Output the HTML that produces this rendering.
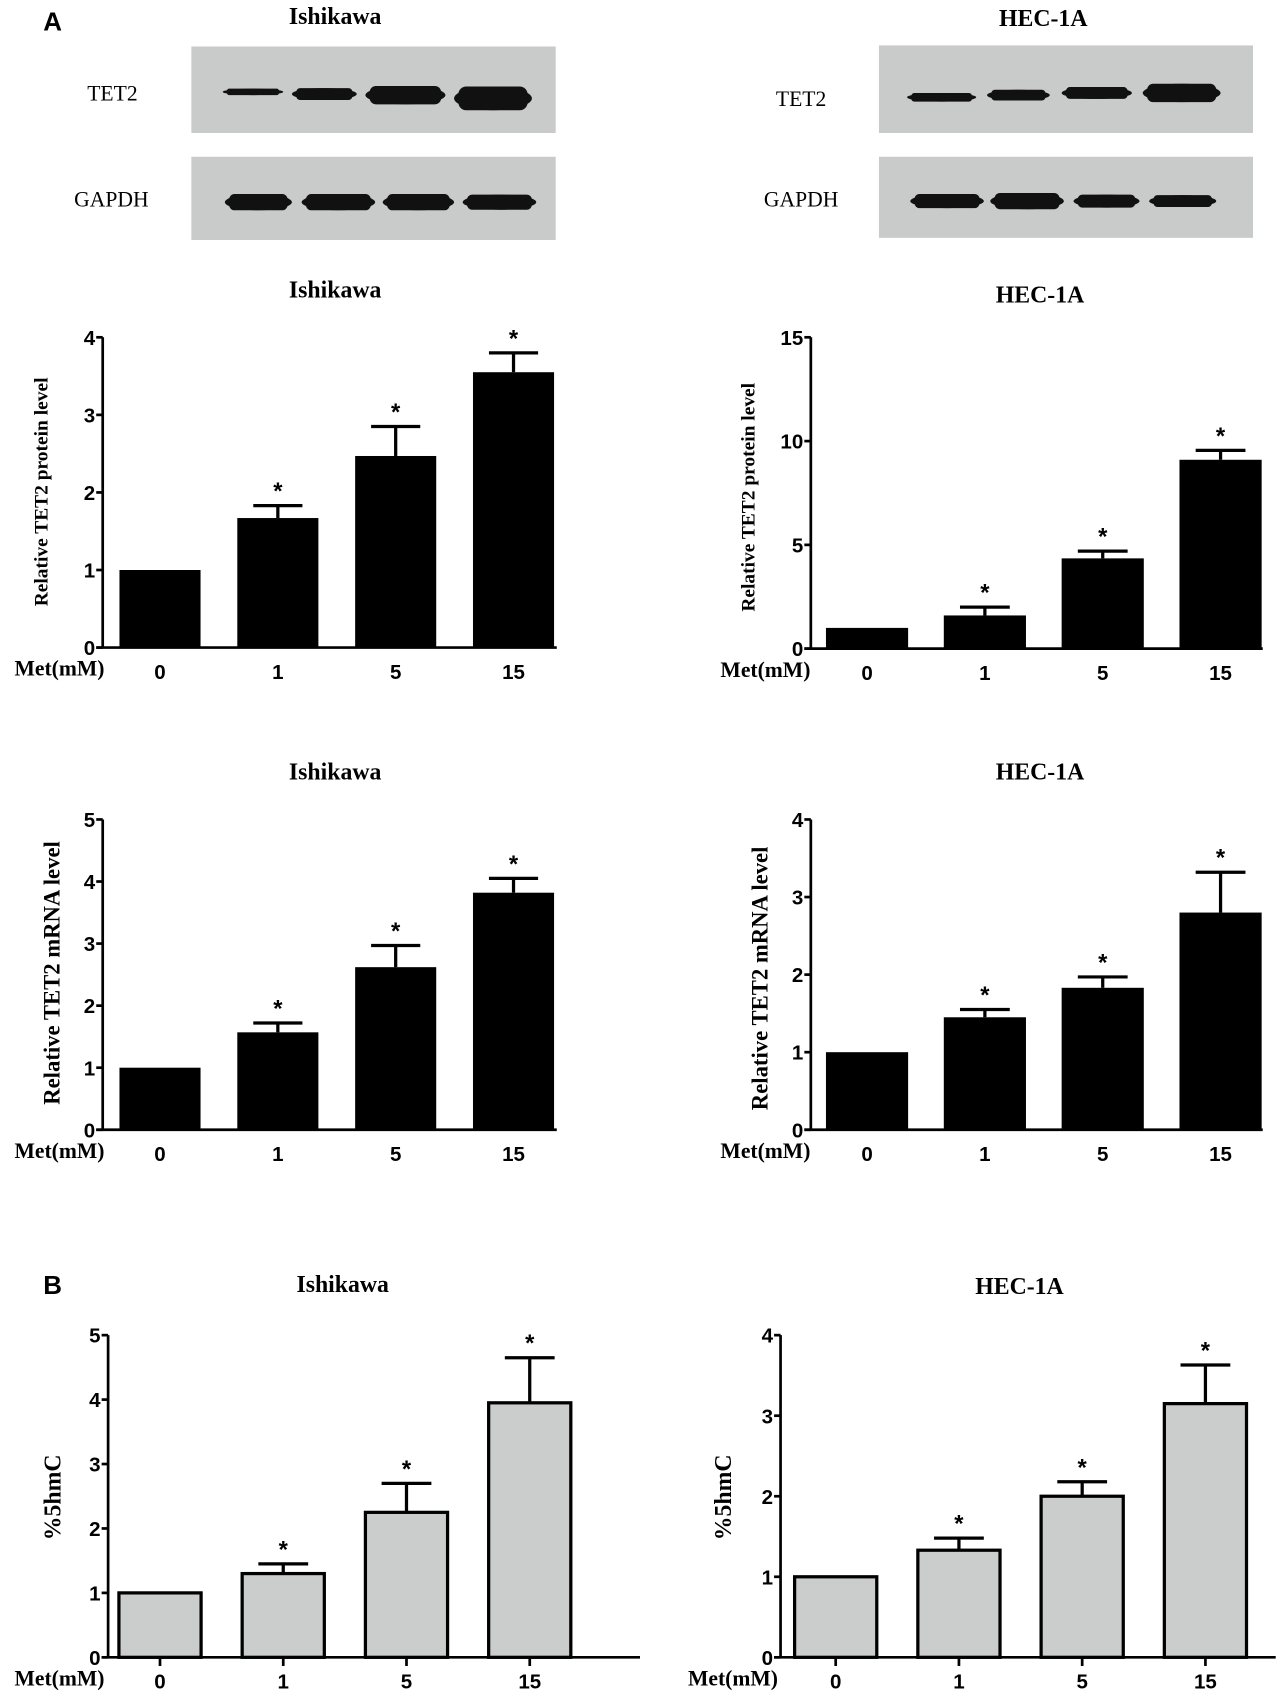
<!DOCTYPE html>
<html><head><meta charset="utf-8"><style>
html,body{margin:0;padding:0;background:#fff;}
svg{display:block;}
.serif{font-family:"Liberation Serif",serif;font-weight:bold;}
.sans{font-family:"Liberation Sans",sans-serif;font-weight:bold;}
</style></head><body>
<svg id="fig" width="1280" height="1695" viewBox="0 0 1280 1695" xmlns="http://www.w3.org/2000/svg">
<g transform="scale(1.0811)">
<text x="40" y="28" class="sans" font-size="24">A</text>
<text x="40" y="1197" class="sans" font-size="24">B</text>
<text x="310" y="22" class="serif" font-size="22" text-anchor="middle">Ishikawa</text>
<text x="965" y="24" class="serif" font-size="22" text-anchor="middle">HEC-1A</text>
<g id="blots"></g>
<g id="charts"></g>
</g>
</svg>
<script>
// ---- chart data ----
const categories = ["0","1","5","15"];
const protIshVals = [1, 1.67, 2.47, 3.55];
const protIshErr  = [0, 0.16, 0.38, 0.25];
const protHecVals = [1, 1.6, 4.35, 9.1];
const protHecErr  = [0, 0.4, 0.35, 0.45];
const mrnaIshVals = [1, 1.57, 2.62, 3.82];
const mrnaIshErr  = [0, 0.15, 0.35, 0.23];
const mrnaHecVals = [1, 1.45, 1.83, 2.8];
const mrnaHecErr  = [0, 0.1, 0.14, 0.52];
const hmcIshVals  = [1, 1.3, 2.25, 3.95];
const hmcIshErr   = [0, 0.15, 0.45, 0.7];
const hmcHecVals  = [1, 1.33, 2.0, 3.15];
const hmcHecErr   = [0, 0.15, 0.18, 0.48];
const ticks4 = [0,1,2,3,4];
const ticks5 = [0,1,2,3,4,5];
const ticks15 = [0,5,10,15];
const signif = [false,true,true,true];

const NS="http://www.w3.org/2000/svg";
function mk(tag, attrs, parent, text){
  const e=document.createElementNS(NS,tag);
  for(const k in attrs) e.setAttribute(k,attrs[k]);
  if(text!==undefined) e.textContent=text;
  parent.appendChild(e); return e;
}

// ---- western blots ----
const blots=document.getElementById('blots');
function blot(x,y,w,h,label,lx,ly,bands,name){
  const g=mk('g',{},blots);
  
  
  mk('rect',{x:x,y:y,width:w,height:h,fill:'#c9caca'},g);
  const t=mk('text',{x:lx,y:ly,'font-family':'"Liberation Serif",serif','font-size':20,'text-anchor':'middle'},g,label);
  
  
  bands.forEach(b=>{
    const r=mk('ellipse',{cx:(b[0]+b[1])/2,cy:b[2],rx:(b[1]-b[0])/2,ry:b[3]/2,fill:'#111'},g);
    
    
    const r2=mk('rect',{x:b[0]+4,y:b[2]-b[3]/2,width:b[1]-b[0]-8,height:b[3],rx:b[3]/3,fill:'#111'},g);
    
    
  });
}
blot(177,43,337,80,'TET2',104,93,[[206,262,85,6],[270,330,87,11],[338,412,88,17],[420,492,91,22]],'blot-ishikawa-tet2');
blot(177,145,337,77,'GAPDH',103,191,[[208,270,187,15],[279,347,187,15],[354,420,187,15],[428,496,187,14]],'blot-ishikawa-gapdh');
blot(813,42,346,81,'TET2',741,98,[[839,903,90,8],[913,971,88,10],[982,1047,86,11],[1057,1129,86,17]],'blot-hec1a-tet2');
blot(813,145,346,75,'GAPDH',741,191,[[842,910,186,13],[916,984,186,15],[993,1054,186,12],[1063,1125,186,11]],'blot-hec1a-gapdh');

// ---- bar charts ----
const charts=document.getElementById('charts');
function chart(o){
  const g=mk('g',{},charts);
  
  
  const ymax=o.ticks[o.ticks.length-1];
  const yS=v=>o.bottom-(v/ymax)*(o.bottom-o.top);
  const xS=i=>o.x0+i*o.step;
  const tt=mk('text',{x:o.tx,y:o.ty,'font-family':'"Liberation Serif",serif','font-weight':'bold','font-size':22,'text-anchor':'middle'},g,o.title);
  
  
  o.vals.forEach((v,i)=>{
    const cx=xS(i), w=o.bw;
    if(o.err[i]>0){
      const l=mk('line',{x1:cx,x2:cx,y1:yS(v),y2:yS(v+o.err[i]),stroke:'#000','stroke-width':3},g);
      
      
      const c=mk('line',{x1:cx-w/3.3,x2:cx+w/3.3,y1:yS(v+o.err[i]),y2:yS(v+o.err[i]),stroke:'#000','stroke-width':3},g);
      
      
    }
    let r;
    if(o.gray) r=mk('rect',{x:cx-w/2,y:yS(v),width:w,height:o.bottom-yS(v),fill:'#cbcccc',stroke:'#000','stroke-width':3},g);
    else r=mk('rect',{x:cx-w/2,y:yS(v),width:w,height:o.bottom-yS(v),fill:'#000'},g);
    
    
    if(signif[i]){
      const s=mk('text',{x:cx,y:yS(v+o.err[i])-6,'font-family':'"Liberation Sans",sans-serif','font-weight':'bold','font-size':22,'text-anchor':'middle'},g,'*');
      
      
    }
    const xl=mk('text',{x:cx,y:o.bottom+29,'font-family':'"Liberation Sans",sans-serif','font-weight':'bold','font-size':19,'text-anchor':'middle'},g,categories[i]);
    
    
    if(o.gray){
      const tk=mk('line',{x1:cx,x2:cx,y1:o.bottom,y2:o.bottom+8,stroke:'#000','stroke-width':2.5},g);
      
      
    }
  });
  const ya=mk('line',{x1:o.ax,x2:o.ax,y1:o.top,y2:o.bottom,stroke:'#000','stroke-width':2.5},g);
  
  
  const xa=mk('line',{x1:o.ax-6,x2:o.xend,y1:o.bottom,y2:o.bottom,stroke:'#000','stroke-width':2.5},g);
  
  
  o.ticks.forEach(t=>{
    const tl=mk('line',{x1:o.ax-6,x2:o.ax,y1:yS(t),y2:yS(t),stroke:'#000','stroke-width':2.5},g);
    
    
    const lb=mk('text',{x:o.ax-7,y:yS(t)+7,'font-family':'"Liberation Sans",sans-serif','font-weight':'bold','font-size':19,'text-anchor':'end'},g,String(t));
    
    
  });
  const yt=mk('text',{x:0,y:0,transform:`translate(${o.ylx},${o.yly}) rotate(-90)`,'font-family':'"Liberation Serif",serif','font-weight':'bold','font-size':o.ylfs,'text-anchor':'middle','xml:space':'preserve'},g,o.ylabel);
  
  
  const mt=mk('text',{x:o.mx,y:o.bottom+26,'font-family':'"Liberation Serif",serif','font-weight':'bold','font-size':20,'text-anchor':'middle'},g,'Met(mM)');
  
  
}
chart({name:'chart-ishikawa-protein',title:'Ishikawa',tx:310,ty:275,vals:protIshVals,err:protIshErr,ticks:ticks4,top:312,bottom:599,ax:95,xend:515,x0:148,step:109,bw:75,ylabel:'Relative TET2 protein level',ylx:44,yly:455,ylfs:18,mx:55});
chart({name:'chart-hec1a-protein',title:'HEC-1A',tx:962,ty:280,vals:protHecVals,err:protHecErr,ticks:ticks15,top:312,bottom:600,ax:750,xend:1168,x0:802,step:109,bw:76,ylabel:'Relative  TET2 protein level',ylx:698,yly:460,ylfs:18,mx:708});
chart({name:'chart-ishikawa-mrna',title:'Ishikawa',tx:310,ty:721,vals:mrnaIshVals,err:mrnaIshErr,ticks:ticks5,top:758,bottom:1045,ax:95,xend:515,x0:148,step:109,bw:75,ylabel:'Relative TET2 mRNA level',ylx:55,yly:900,ylfs:21,mx:55});
chart({name:'chart-hec1a-mrna',title:'HEC-1A',tx:962,ty:721,vals:mrnaHecVals,err:mrnaHecErr,ticks:ticks4,top:758,bottom:1045,ax:750,xend:1168,x0:802,step:109,bw:76,ylabel:'Relative TET2 mRNA level',ylx:710,yly:905,ylfs:21,mx:708});
chart({name:'chart-ishikawa-5hmc',title:'Ishikawa',tx:317,ty:1195,vals:hmcIshVals,err:hmcIshErr,ticks:ticks5,top:1235,bottom:1533,ax:100,xend:592,x0:148,step:114,bw:76,gray:true,ylabel:'%5hmC',ylx:56,yly:1385,ylfs:22,mx:55});
chart({name:'chart-hec1a-5hmc',title:'HEC-1A',tx:943,ty:1197,vals:hmcHecVals,err:hmcHecErr,ticks:ticks4,top:1235,bottom:1533,ax:722,xend:1180,x0:773,step:114,bw:76,gray:true,ylabel:'%5hmC',ylx:676,yly:1385,ylfs:22,mx:678});
</script>
</body></html>
